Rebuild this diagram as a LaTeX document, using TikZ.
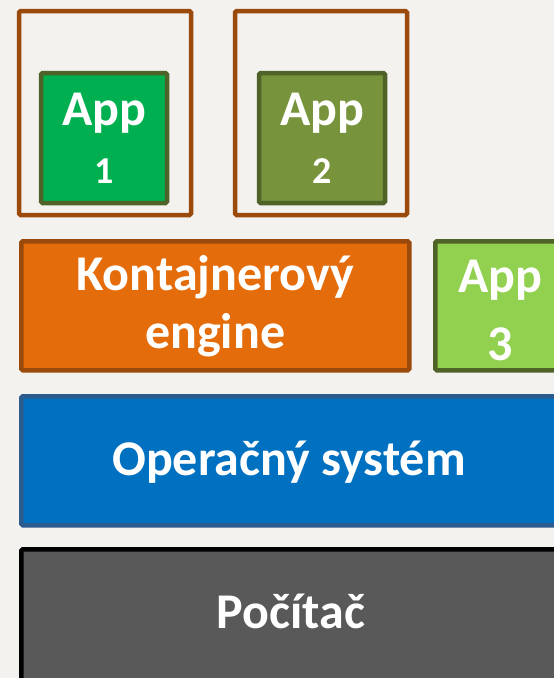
\documentclass[tikz,border=0pt]{standalone}
\usepackage{fontspec}
\setmainfont{Carlito}
\definecolor{bgc}{HTML}{F3F2EE}
\definecolor{brownline}{HTML}{9A4A0A}
\definecolor{oliveline}{HTML}{4F6228}
\definecolor{appgreen}{HTML}{00B050}
\definecolor{appolive}{HTML}{77933C}
\definecolor{applime}{HTML}{92D050}
\definecolor{engorange}{HTML}{E46C0A}
\definecolor{osblue}{HTML}{0070C0}
\definecolor{osline}{HTML}{2A5C8E}
\definecolor{pcgray}{HTML}{595959}
% old-style figures: small ones sit on the baseline, descending ones drop below it
\newcommand\smallfig[1]{{\fontsize{38}{58}\selectfont #1}}
\newcommand\lowfig[1]{\smash{\raisebox{-10pt}{#1}}}
\begin{document}
\begin{tikzpicture}[x=1pt,y=-1pt,
  labelfont/.style={font=\fontsize{50}{58}\selectfont\bfseries},
  layer/.style={draw, line width=4.5pt, rounded corners=1.5pt, inner sep=0pt,
    text=white, align=center, labelfont},
  holder/.style={draw=brownline, line width=4.5pt, rounded corners=1.5pt},
  appbox/.style={layer, draw=oliveline},
]
\useasboundingbox (0,0) rectangle (554,678);
\fill[bgc] (0,0) rectangle (554,678);
\begin{scope}
\clip (0,0) rectangle (554,678);
% container frames
\draw[holder] (19,11) rectangle (191,215);
\draw[holder] (235,11) rectangle (407,215);
% applications
\node[appbox, fill=appgreen, minimum width=126pt, minimum height=130pt] (app1) at (104,138) {App\\\smallfig{1}};
\node[appbox, fill=appolive, minimum width=126pt, minimum height=130pt] (app2) at (322,138) {App\\\smallfig{2}};
\node[appbox, fill=applime, minimum width=130pt, minimum height=129pt, anchor=north west] (app3) at (433,239) {App\\\lowfig{3}};
% container engine
\node[layer, draw=brownline, fill=engorange, minimum width=388pt, minimum height=129pt, anchor=north west] (engine) at (19,239) {Kontajnerový\\engine};
% operating system
\node[layer, draw=osline, fill=osblue, minimum width=560pt, minimum height=129pt, anchor=north west] (os) at (19,394) {};
\node[text=white, labelfont, anchor=base] (ostext) at (289,475) {Operačný systém};
% hardware
\node[layer, draw=black, fill=pcgray, minimum width=560pt, minimum height=140pt, anchor=north west] (pc) at (19,547) {};
\node[text=white, labelfont, anchor=base] (pctext) at (291,628) {Počítač};
\end{scope}
\end{tikzpicture}
\end{document}
